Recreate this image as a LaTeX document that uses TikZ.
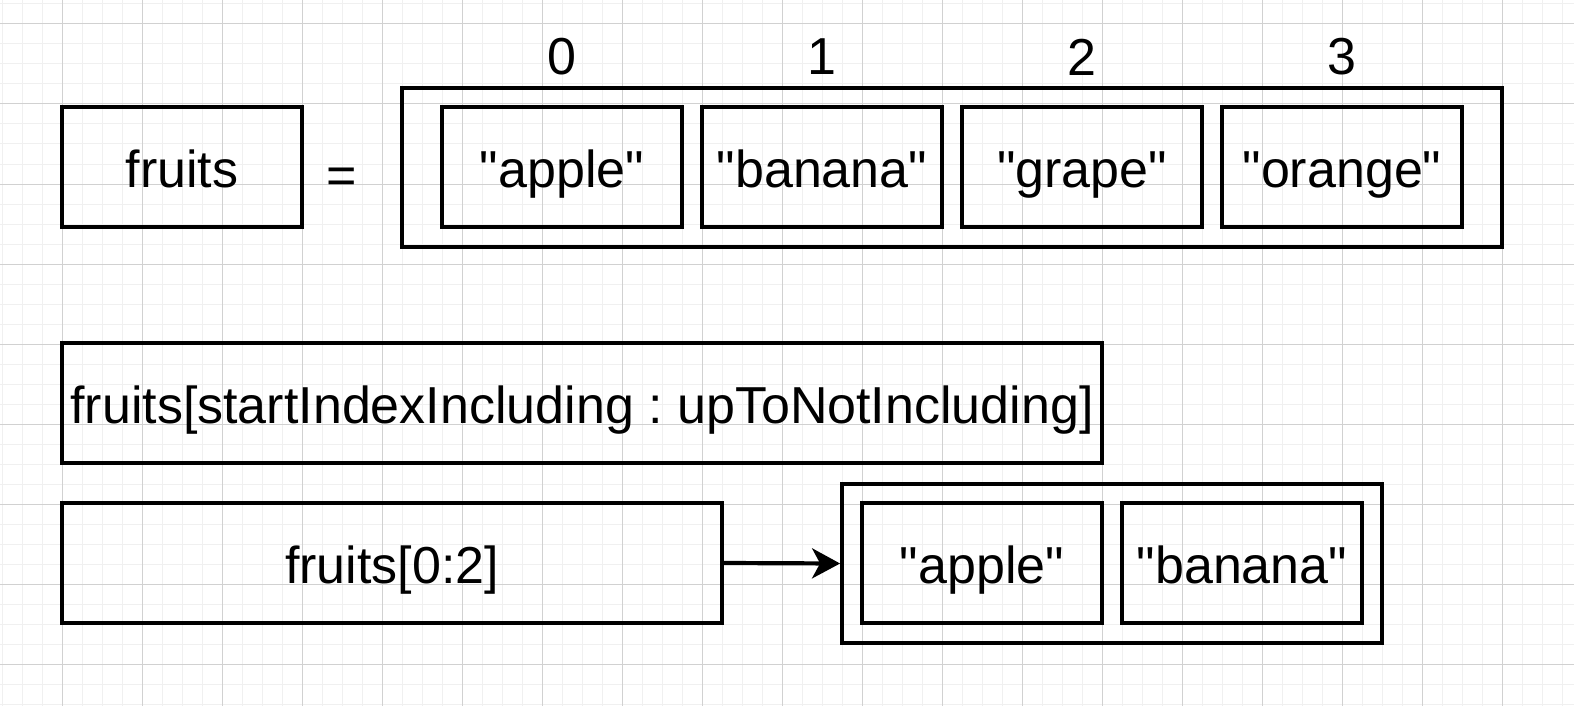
\documentclass[tikz,border=0pt]{standalone}
\usepackage{fontspec}
\setmainfont{Liberation Sans}
\usetikzlibrary{arrows.meta}
\frenchspacing

\begin{document}
\begin{tikzpicture}[x=0.5pt, y=-0.5pt,
  every node/.style = {font=\fontsize{26}{30}\selectfont, inner sep=0pt},
  cell/.style = {shape=rectangle, draw, line width=1.9pt, minimum width=120pt, minimum height=60pt, text height=20pt, text depth=0pt},
  frame/.style = {shape=rectangle, draw, line width=1.9pt, minimum height=79.5pt},
  black edge/.style = {-{Stealth[length=14pt, width=15pt, inset=4pt]}, line width=2.1pt},
  minor grid/.style = {line width=0.5pt, black!6},
  major grid/.style = {line width=0.5pt, black!18}]
\useasboundingbox (0,0) rectangle (1574,706);
% background grid
\foreach \x in {2,22,...,1574} \draw[minor grid] (\x,0) -- (\x,706);
\foreach \y in {4,24,...,706} \draw[minor grid] (0,\y) -- (1574,\y);
\foreach \x in {62,142,...,1574} \draw[major grid] (\x,0) -- (\x,706);
\foreach \y in {24,104,...,706} \draw[major grid] (0,\y) -- (1574,\y);

\node[cell] (fruits) at (182,167) {fruits};
  \node[text height=20pt, text depth=0pt] (eq) at (342,173) {=};
  \node[frame, minimum width=550pt] (list) at (952,167.5) {};
\foreach \t [count=\i from 0] in {apple,banana,grape,orange}
  { \node[cell] (item\i) at (562+260*\i,167) {\textquotedbl\t\textquotedbl};
    \node (idx\i) at (562+260*\i,57) {\i}; }

\node[cell, minimum width=520pt] (slice) at (582,403) {fruits[startIndexIncluding : upToNotIncluding]};

\node[cell, minimum width=330pt] (sub) at (392,563) {fruits[0:2]};
  \node[frame, minimum width=270pt] (result) at (1112,563.5) {};
\foreach \t [count=\i from 0] in {apple,banana}
  { \node[cell] (part\i) at (982+260*\i,563) {\textquotedbl\t\textquotedbl}; }
\draw[black edge] (sub.east) -- (result.west);
\end{tikzpicture}
\end{document}
